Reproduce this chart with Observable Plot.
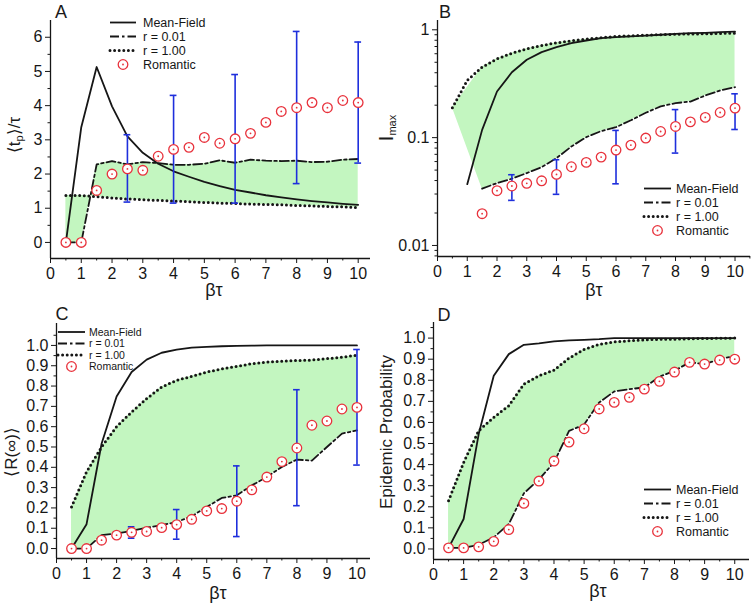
<!DOCTYPE html>
<html><head><meta charset="utf-8">
<script src="https://cdn.jsdelivr.net/npm/d3@7"></script>
<script src="https://cdn.jsdelivr.net/npm/@observablehq/plot@0.6"></script>
<style>
body{margin:0;background:#fff;}
#fig{position:relative;width:755px;height:605px;font-family:"Liberation Sans",Arial,sans-serif;color:#1a1a1a;overflow:hidden;}
.panel{position:absolute;}
.ylab{position:absolute;transform:translate(-50%,-50%) rotate(-90deg);white-space:nowrap;font-size:17px;line-height:1;}
.xlab{position:absolute;transform:translate(-50%,-50%);white-space:nowrap;font-size:18px;line-height:1;}
.letter{position:absolute;transform:translate(-50%,-50%);font-size:18px;line-height:1;}
sub{font-size:11px;vertical-align:-3px;}
#legends{position:absolute;left:0;top:0;pointer-events:none;}
</style></head><body><div id="fig"></div>
<script>
// ---------- data ----------
const betaTau = [0.5,1,1.5,2,2.5,3,3.5,4,4.5,5,5.5,6,6.5,7,7.5,8,8.5,9,9.5,10];
const errBeta = [2.5,4,6,8,10];
const seriesNames = ["Mean-Field","r = 0.01","r = 1.00","Romantic"];

// Panel A: <t_p>/tau
const tpMeanField = [0,3.37,5.13,3.98,3.1,2.62,2.3,2.08,1.92,1.77,1.65,1.54,1.46,1.38,1.32,1.26,1.21,1.17,1.13,1.10];
const tpR001 = [0,0,2.28,2.38,2.28,2.35,2.32,2.27,2.27,2.3,2.40,2.33,2.42,2.39,2.38,2.39,2.35,2.36,2.42,2.44];
const tpR100 = [1.37,1.37,1.34,1.30,1.27,1.25,1.23,1.21,1.19,1.17,1.15,1.14,1.12,1.11,1.10,1.08,1.07,1.05,1.04,1.02];
const tpRomantic = [0,0,1.52,2.0,2.15,2.11,2.52,2.72,2.78,3.07,2.90,3.03,3.19,3.51,3.83,3.94,4.09,3.94,4.15,4.09];
const tpErrLow = [1.18,1.15,1.15,1.72,2.32];
const tpErrHigh = [3.15,4.30,4.91,6.17,5.86];

// Panel B: I_max (log)
const imMeanField = [null,0.037,0.118,0.268,0.404,0.527,0.621,0.690,0.752,0.796,0.836,0.855,0.87,0.885,0.90,0.918,0.93,0.937,0.95,0.964];
const imR001 = [null,null,0.0336,0.0379,0.0416,0.0469,0.0533,0.0646,0.0828,0.101,0.115,0.125,0.145,0.170,0.195,0.209,0.216,0.246,0.274,0.294];
const imR100 = [0.189,0.34,0.451,0.538,0.607,0.667,0.715,0.757,0.79,0.819,0.845,0.867,0.88,0.892,0.90,0.911,0.915,0.918,0.925,0.931];
const imRomantic = [null,null,0.0197,0.0322,0.0356,0.0377,0.0398,0.0456,0.0537,0.0589,0.066,0.0767,0.0853,0.0991,0.114,0.127,0.140,0.154,0.171,0.188];
const imErrLow = [0.0262,0.0298,0.0373,0.0719,0.119];
const imErrHigh = [0.0453,0.0624,0.1167,0.182,0.255];

// Panel C: <R(inf)>
const rMeanField = [0,0.12,0.516,0.749,0.869,0.93,0.964,0.979,0.989,0.993,0.996,0.998,0.999,1.0,1.0,1.0,1.0,1.0,1.0,1.0];
const rR001 = [0,0,0.066,0.074,0.087,0.103,0.115,0.131,0.159,0.205,0.249,0.262,0.311,0.352,0.402,0.438,0.433,0.5,0.566,0.582];
const rR100 = [0.205,0.377,0.5,0.60,0.672,0.738,0.795,0.828,0.848,0.869,0.884,0.897,0.910,0.918,0.922,0.926,0.928,0.935,0.942,0.952];
const rRomantic = [0,0,0.041,0.066,0.080,0.084,0.103,0.118,0.144,0.185,0.197,0.233,0.289,0.352,0.428,0.495,0.607,0.628,0.687,0.695];
const rErrLow = [0.051,0.046,0.059,0.211,0.411];
const rErrHigh = [0.107,0.192,0.407,0.782,0.980];

// Panel D: Epidemic probability
const epMeanField = [0.005,0.142,0.545,0.821,0.924,0.968,0.975,0.984,0.989,0.992,0.995,1.0,1.0,1.0,1.0,1.0,1.0,1.0,1.0,1.0];
const epR001 = [0.005,0.005,0.02,0.055,0.118,0.264,0.33,0.41,0.56,0.59,0.695,0.747,0.758,0.766,0.817,0.845,0.885,0.877,0.9,0.916];
const epR100 = [0.229,0.41,0.561,0.624,0.679,0.782,0.821,0.848,0.905,0.946,0.97,0.982,0.987,0.992,0.994,0.995,0.997,0.998,0.999,1.0];
const epRomantic = [0.005,0.005,0.01,0.036,0.092,0.216,0.322,0.417,0.507,0.570,0.664,0.695,0.719,0.758,0.795,0.839,0.885,0.877,0.896,0.900];

// ticks
const xTicks = [0,1,2,3,4,5,6,7,8,9,10];
const xMinorTicks = [0.5,1.5,2.5,3.5,4.5,5.5,6.5,7.5,8.5,9.5,10.5];
const tpTicks = [0,1,2,3,4,5,6];
const tpMinorTicks = [0.5,1.5,2.5,3.5,4.5,5.5];
const imTicks = [0.01,0.1,1];
const imMinorTicks = [0.008,0.009,0.02,0.03,0.04,0.05,0.06,0.07,0.08,0.09,0.2,0.3,0.4,0.5,0.6,0.7,0.8,0.9];
const fracTicks = [0,0.1,0.2,0.3,0.4,0.5,0.6,0.7,0.8,0.9,1.0];
const fracMinorTicks = [0.05,0.15,0.25,0.35,0.45,0.55,0.65,0.75,0.85,0.95,1.05];

// ---------- style ----------
const INK = "#161616", GREEN = "#c3f6c0", RED = "#e8323c", BLUE = "#1e2fdc";
const CAP = 0.11;
const lineStyles = [
  {stroke: INK, strokeWidth: 1.8},
  {stroke: INK, strokeWidth: 1.8, strokeDasharray: "9,3,2.5,3"},
  {stroke: INK, strokeWidth: 3, strokeDasharray: "0,4.6", strokeLinecap: "round"}
];

function rows(ys) { return betaTau.map((x, i) => ({x, y: ys[i]})).filter(d => d.y != null); }

function makePanel(c) {
  const fillData = betaTau.map((x, i) => ({x, lo: c.r001[i] ?? (i === 0 ? c.r100[i] : null), hi: c.r100[i]}))
    .filter(d => d.lo != null && d.hi != null);
  const errData = c.errLo ? errBeta.map((x, i) => ({x, lo: c.errLo[i], hi: c.errHi[i]})) : [];
  return Plot.plot({
    width: c.w, height: c.h,
    marginLeft: c.ml, marginRight: c.mr, marginTop: c.mt, marginBottom: c.mb,
    x: {domain: c.xDomain},
    y: {type: c.yType, domain: c.yDomain},
    style: {fontFamily: '"Liberation Sans", Arial, sans-serif', fontSize: "16px", color: INK, background: "transparent", overflow: "visible"},
    marks: [
      Plot.areaY(fillData, {x: "x", y1: "lo", y2: "hi", fill: GREEN}),
      Plot.line(rows(c.mf), {x: "x", y: "y", ...lineStyles[0]}),
      Plot.line(rows(c.r001), {x: "x", y: "y", ...lineStyles[1]}),
      Plot.line(rows(c.r100), {x: "x", y: "y", ...lineStyles[2]}),
      Plot.ruleX(errData, {x: "x", y1: "lo", y2: "hi", stroke: BLUE, strokeWidth: 1.6}),
      Plot.ruleY(errData, {y: "lo", x1: d => d.x - CAP, x2: d => d.x + CAP, stroke: BLUE, strokeWidth: 1.6}),
      Plot.ruleY(errData, {y: "hi", x1: d => d.x - CAP, x2: d => d.x + CAP, stroke: BLUE, strokeWidth: 1.6}),
      Plot.dot(rows(c.rom), {x: "x", y: "y", r: 4.8, stroke: RED, strokeWidth: 1.3, fill: "white"}),
      Plot.dot(rows(c.rom), {x: "x", y: "y", r: 0.9, fill: RED}),
      Plot.ruleX([c.xDomain[0]], {stroke: INK, strokeWidth: 1.3}),
      Plot.ruleY([c.yDomain[0]], {stroke: INK, strokeWidth: 1.3}),
      Plot.axisX({ticks: xTicks, tickSize: 5, tickPadding: 4, label: null}),
      Plot.axisX({ticks: xMinorTicks.filter(t => t <= c.xDomain[1]), tickSize: 2.5, tickFormat: () => "", label: null}),
      Plot.axisY({ticks: c.yTicks, tickSize: 5, tickPadding: 3, tickFormat: c.yFormat, label: null}),
      Plot.axisY({ticks: c.yMinor, tickSize: 2.5, tickFormat: () => "", label: null})
    ]
  });
}

const panels = [
  {left: 0, top: 0, w: 378, h: 300, ml: 50, mr: 8, mt: 20, mb: 42,
   xDomain: [0, 10.4], yDomain: [-0.47, 6.49], yType: "linear", yTicks: tpTicks, yMinor: tpMinorTicks, yFormat: d => String(d),
   mf: tpMeanField, r001: tpR001, r100: tpR100, rom: tpRomantic, errLo: tpErrLow, errHi: tpErrHigh},
  {left: 378, top: 0, w: 377, h: 300, ml: 59, mr: 5, mt: 20, mb: 44,
   xDomain: [0, 10.52], yDomain: [0.0079, 1.22], yType: "log", yTicks: imTicks, yMinor: imMinorTicks, yFormat: d => String(d),
   mf: imMeanField, r001: imR001, r100: imR100, rom: imRomantic, errLo: imErrLow, errHi: imErrHigh},
  {left: 0, top: 300, w: 378, h: 305, ml: 56, mr: 8, mt: 23, mb: 47,
   xDomain: [0, 10.45], yDomain: [-0.049, 1.108], yType: "linear", yTicks: fracTicks, yMinor: fracMinorTicks, yFormat: d3.format(".1f"),
   mf: rMeanField, r001: rR001, r100: rR100, rom: rRomantic, errLo: rErrLow, errHi: rErrHigh},
  {left: 378, top: 300, w: 377, h: 305, ml: 55, mr: 6, mt: 22, mb: 46,
   xDomain: [0, 10.49], yDomain: [-0.05, 1.074], yType: "linear", yTicks: fracTicks, yMinor: fracMinorTicks.filter(t => t < 1.07), yFormat: d3.format(".1f"),
   mf: epMeanField, r001: epR001, r100: epR100, rom: epRomantic, errLo: null, errHi: null}
];

const fig = document.getElementById("fig");
for (const p of panels) {
  const div = document.createElement("div");
  div.className = "panel";
  div.style.left = p.left + "px";
  div.style.top = p.top + "px";
  div.appendChild(makePanel(p));
  fig.appendChild(div);
}

// labels
const labels = [
  {cls: "letter", x: 61, y: 12, html: "A"},
  {cls: "letter", x: 445, y: 12, html: "B"},
  {cls: "letter", x: 62, y: 314, html: "C"},
  {cls: "letter", x: 444, y: 315, html: "D"},
  {cls: "xlab", x: 214, y: 290, html: "βτ"},
  {cls: "xlab", x: 594, y: 290, html: "βτ"},
  {cls: "xlab", x: 218, y: 593, html: "βτ"},
  {cls: "xlab", x: 598, y: 591, html: "βτ"},
  {cls: "ylab", x: 15, y: 135, html: "⟨t<sub>p</sub>⟩/τ"},
  {cls: "ylab", x: 387, y: 128, html: "<span style='font-size:20px'>I</span><sub>max</sub>"},
  {cls: "ylab", x: 11, y: 452, html: "⟨R(∞)⟩"},
  {cls: "ylab", x: 386, y: 432, html: "Epidemic Probability"}
];
for (const l of labels) {
  const el = document.createElement("div");
  el.className = l.cls;
  el.style.left = l.x + "px";
  el.style.top = l.y + "px";
  el.innerHTML = l.html;
  fig.appendChild(el);
}

// legends
const legendBoxes = [
  {x0: 110, x1: 136, tx: 143, y0: 22.5, dy: 14, fs: 12.5},
  {x0: 644, x1: 671, tx: 676, y0: 188.5, dy: 14, fs: 12.5},
  {x0: 58, x1: 85, tx: 89, y0: 332, dy: 11.5, fs: 10.5},
  {x0: 644, x1: 671, tx: 676, y0: 489.5, dy: 14, fs: 12.5}
];
const svg = d3.select(fig).append("svg").attr("id", "legends").attr("width", 755).attr("height", 605);
for (const b of legendBoxes) {
  seriesNames.forEach((name, i) => {
    const y = b.y0 + i * b.dy;
    if (i < 3) {
      const s = lineStyles[i];
      svg.append("line").attr("x1", b.x0).attr("x2", b.x1).attr("y1", y).attr("y2", y)
        .attr("stroke", s.stroke).attr("stroke-width", s.strokeWidth)
        .attr("stroke-dasharray", s.strokeDasharray || null).attr("stroke-linecap", s.strokeLinecap || null);
    } else {
      const cx = (b.x0 + b.x1) / 2;
      svg.append("circle").attr("cx", cx).attr("cy", y).attr("r", 4.8).attr("fill", "white").attr("stroke", RED).attr("stroke-width", 1.3);
      svg.append("circle").attr("cx", cx).attr("cy", y).attr("r", 0.9).attr("fill", RED);
    }
    svg.append("text").attr("x", b.tx).attr("y", y).attr("dy", "0.35em")
      .attr("font-size", b.fs).attr("fill", INK)
      .attr("font-family", '"Liberation Sans", Arial, sans-serif').text(name);
  });
}
</script></body></html>
